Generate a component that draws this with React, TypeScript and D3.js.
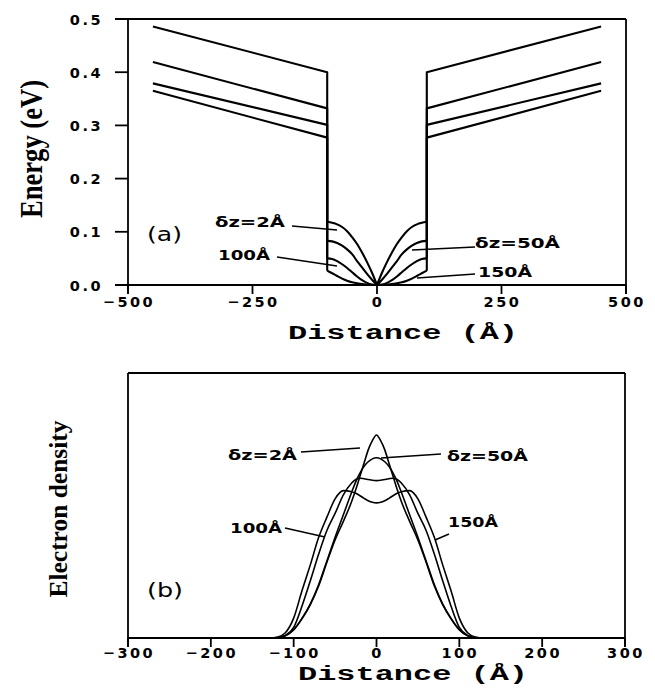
import React from 'react';
import * as d3 from 'd3';

// ---------- Panel (a): energy profiles ----------
const energyTicks = [0, 0.1, 0.2, 0.3, 0.4, 0.5];
const energyTickLabels = ['0.0', '0.1', '0.2', '0.3', '0.4', '0.5'];
const distTicksA = [-500, -250, 0, 250, 500];
const distTickLabelsA = ['\u2212500', '\u2212250', '0', '250', '500'];

const barrierFarZ = 450; // Å
const wellEdgeZ = 100; // Å
// one entry per δz = 2, 50, 100, 150 Å
const outerFar = [0.486, 0.419, 0.379, 0.365];
const outerNear = [0.4, 0.332, 0.301, 0.277];
const wellZ = [0, 10, 20, 30, 40, 50, 60, 70, 80, 90, 100];
const well2 = [0, 0.023, 0.043, 0.061, 0.077, 0.09, 0.101, 0.109, 0.114, 0.117, 0.119];
const well50 = [0, 0.01, 0.021, 0.033, 0.045, 0.058, 0.067, 0.074, 0.079, 0.082, 0.083];
const well100 = [0, 0.001, 0.004, 0.009, 0.016, 0.024, 0.032, 0.039, 0.045, 0.049, 0.05];
const well150 = [0, 0, 0.001, 0.002, 0.003, 0.005, 0.008, 0.012, 0.017, 0.022, 0.027];
const wells = [well2, well50, well100, well150];

// ---------- Panel (b): electron density ----------
const distTicksB = [-300, -200, -100, 0, 100, 200, 300];
const distTickLabelsB = ['\u2212300', '\u2212200', '\u2212100', '0', '100', '200', '300'];
const densZ = [0, 5, 10, 15, 20, 25, 30, 40, 50, 60, 70, 80, 90, 100, 110, 120, 130];
const dens2 = [0.766, 0.745, 0.71, 0.66, 0.61, 0.56, 0.515, 0.44, 0.37, 0.285, 0.195, 0.125, 0.072, 0.03, 0.008, 0.001, 0];
const dens50 = [0.68, 0.676, 0.665, 0.648, 0.622, 0.59, 0.55, 0.465, 0.38, 0.29, 0.2, 0.128, 0.074, 0.032, 0.009, 0.001, 0];
const dens100 = [0.594, 0.595, 0.598, 0.601, 0.603, 0.598, 0.585, 0.54, 0.47, 0.405, 0.315, 0.215, 0.12, 0.04, 0.01, 0.002, 0];
const dens150 = [0.51, 0.512, 0.518, 0.527, 0.537, 0.546, 0.552, 0.556, 0.525, 0.455, 0.378, 0.275, 0.178, 0.075, 0.02, 0.003, 0];
const densities = [dens2, dens50, dens100, dens150];

const tickFont = "'DejaVu Sans', sans-serif";
const serif = "'Liberation Serif', 'DejaVu Serif', serif";
const mono = "'Liberation Mono', 'DejaVu Sans Mono', monospace";

export default function App() {
  // scales panel (a)
  const xA = d3.scaleLinear().domain([-500, 500]).range([128, 626]);
  const yA = d3.scaleLinear().domain([0, 0.5]).range([285, 19]);
  // scales panel (b)
  const xB = d3.scaleLinear().domain([-300, 300]).range([128, 625]);
  const yB = d3.scaleLinear().domain([0, 1]).range([638, 373]);

  const lineA = d3
    .line<[number, number]>()
    .x((d) => xA(d[0]))
    .y((d) => yA(d[1]));
  const curveA = d3
    .line<[number, number]>()
    .x((d) => xA(d[0]))
    .y((d) => yA(d[1]))
    .curve(d3.curveMonotoneX);
  const curveB = d3
    .line<[number, number]>()
    .x((d) => xB(d[0]))
    .y((d) => yB(d[1]))
    .curve(d3.curveMonotoneX);

  const pathsA: string[] = [];
  outerFar.forEach((far, i) => {
    const near = outerNear[i];
    const w = wells[i];
    const edge = w[w.length - 1];
    pathsA.push(
      lineA([
        [-barrierFarZ, far],
        [-wellEdgeZ, near],
        [-wellEdgeZ, edge],
      ]) as string
    );
    pathsA.push(
      lineA([
        [barrierFarZ, far],
        [wellEdgeZ, near],
        [wellEdgeZ, edge],
      ]) as string
    );
    const left = wellZ.map((z, k) => [-z, w[k]] as [number, number]).reverse();
    const right = wellZ.map((z, k) => [z, w[k]] as [number, number]);
    pathsA.push(curveA(left) as string);
    pathsA.push(curveA(right) as string);
  });

  const pathsB = densities.map((d) => {
    const pts: [number, number][] = [];
    for (let k = densZ.length - 1; k > 0; k--) pts.push([-densZ[k], d[k]]);
    for (let k = 0; k < densZ.length; k++) pts.push([densZ[k], d[k]]);
    return curveB(pts) as string;
  });

  const tickText = {
    fontFamily: tickFont,
    fontWeight: 'bold' as const,
    fontSize: 14.5,
    letterSpacing: 2.5,
  };
  const annText = {
    fontFamily: tickFont,
    fontWeight: 'bold' as const,
    fontSize: 14,
  };

  return (
    <svg
      width={655}
      height={696}
      viewBox="0 0 655 696"
      style={{ position: 'absolute', left: 0, top: 0, background: '#fff' }}
    >
      <rect x={0} y={0} width={655} height={696} fill="#fff" />
      {/* ================= Panel (a) ================= */}
      <g stroke="#000" strokeWidth={1.8} fill="none">
        <line x1={115} x2={626} y1={yA(0.5)} y2={yA(0.5)} />
        <line x1={115} x2={626} y1={yA(0)} y2={yA(0)} />
        <line x1={xA(-500)} x2={xA(-500)} y1={yA(0.5)} y2={yA(0) + 9} />
        <line x1={xA(500)} x2={xA(500)} y1={yA(0.5)} y2={yA(0) + 9} />
        {energyTicks.map((t) => (
          <line key={'ya' + t} x1={115} x2={xA(-500)} y1={yA(t)} y2={yA(t)} />
        ))}
        {distTicksA.map((t) => (
          <line key={'xa' + t} x1={xA(t)} x2={xA(t)} y1={yA(0)} y2={yA(0) + 9} />
        ))}
      </g>
      {energyTicks.map((t, i) => (
        <text key={'yl' + t} x={103} y={yA(t) + 5.5} textAnchor="end" {...tickText}>
          {energyTickLabels[i]}
        </text>
      ))}
      {distTicksA.map((t, i) => (
        <text key={'xl' + t} x={xA(t) + 1} y={307} textAnchor="middle" {...tickText}>
          {distTickLabelsA[i]}
        </text>
      ))}
      <g stroke="#000" strokeWidth={2.1} fill="none" strokeLinejoin="round">
        {pathsA.map((d, i) => (
          <path key={'pa' + i} d={d} />
        ))}
      </g>
      {/* annotations (a) */}
      <g stroke="#000" strokeWidth={1.5}>
        <line x1={292} y1={226} x2={337} y2={230} />
        <line x1={277} y1={257} x2={337} y2={266} />
        <line x1={475} y1={247} x2={412} y2={250} />
        <line x1={475} y1={274} x2={417} y2={278} />
      </g>
      <text x={215} y={227} textLength={70} lengthAdjust="spacingAndGlyphs" {...annText}>
        {'\u03B4z=2\u00C5'}
      </text>
      <text x={218} y={260} textLength={52} lengthAdjust="spacingAndGlyphs" {...annText}>
        {'100\u00C5'}
      </text>
      <text x={475} y={248} textLength={85} lengthAdjust="spacingAndGlyphs" {...annText}>
        {'\u03B4z=50\u00C5'}
      </text>
      <text x={478} y={277} textLength={54} lengthAdjust="spacingAndGlyphs" {...annText}>
        {'150\u00C5'}
      </text>
      <text x={147} y={241} fontFamily={tickFont} fontSize={20} textLength={35} lengthAdjust="spacingAndGlyphs">
        (a)
      </text>
      {/* axis titles (a) */}
      <text
        transform="translate(42,149) rotate(-90)"
        textAnchor="middle"
        fontFamily={serif}
        fontWeight="bold"
        fontSize={31}
        textLength={138}
        lengthAdjust="spacingAndGlyphs"
      >
        Energy (eV)
      </text>
      <text
        x={288}
        y={339}
        fontFamily={mono}
        fontWeight="bold"
        fontSize={20}
        textLength={230}
        lengthAdjust="spacingAndGlyphs"
      >
        {'Distance (\u00C5)'}
      </text>

      {/* ================= Panel (b) ================= */}
      <g stroke="#000" strokeWidth={1.8} fill="none">
        <line x1={xB(-300)} x2={xB(300)} y1={yB(1)} y2={yB(1)} />
        <line x1={xB(-300)} x2={xB(300)} y1={yB(0)} y2={yB(0)} />
        <line x1={xB(-300)} x2={xB(-300)} y1={yB(1)} y2={yB(0) + 9} />
        <line x1={xB(300)} x2={xB(300)} y1={yB(1)} y2={yB(0) + 9} />
        {distTicksB.map((t) => (
          <line key={'xb' + t} x1={xB(t)} x2={xB(t)} y1={yB(0)} y2={yB(0) + 9} />
        ))}
      </g>
      {distTicksB.map((t, i) => (
        <text key={'xbl' + t} x={xB(t) + 1} y={658} textAnchor="middle" {...tickText}>
          {distTickLabelsB[i]}
        </text>
      ))}
      <g stroke="#000" strokeWidth={1.6} fill="none" strokeLinejoin="round">
        {pathsB.map((d, i) => (
          <path key={'pb' + i} d={d} />
        ))}
      </g>
      {/* annotations (b) */}
      <g stroke="#000" strokeWidth={1.5}>
        <line x1={301} y1={452} x2={360} y2={448} />
        <line x1={441} y1={454} x2={381} y2={458} />
        <line x1={285} y1={528} x2={325} y2={537} />
        <line x1={449} y1={534} x2={435} y2={540} />
      </g>
      <text x={228} y={460} textLength={69} lengthAdjust="spacingAndGlyphs" {...annText}>
        {'\u03B4z=2\u00C5'}
      </text>
      <text x={447} y={461} textLength={81} lengthAdjust="spacingAndGlyphs" {...annText}>
        {'\u03B4z=50\u00C5'}
      </text>
      <text x={230} y={533} textLength={52} lengthAdjust="spacingAndGlyphs" {...annText}>
        {'100\u00C5'}
      </text>
      <text x={448} y={527} textLength={50} lengthAdjust="spacingAndGlyphs" {...annText}>
        {'150\u00C5'}
      </text>
      <text x={147} y={597} fontFamily={tickFont} fontSize={20} textLength={36} lengthAdjust="spacingAndGlyphs">
        (b)
      </text>
      {/* axis titles (b) */}
      <text
        transform="translate(67,509) rotate(-90)"
        textAnchor="middle"
        fontFamily={serif}
        fontWeight="bold"
        fontSize={25}
        textLength={177}
        lengthAdjust="spacingAndGlyphs"
      >
        Electron density
      </text>
      <text
        x={298}
        y={680}
        fontFamily={mono}
        fontWeight="bold"
        fontSize={20}
        textLength={230}
        lengthAdjust="spacingAndGlyphs"
      >
        {'Distance (\u00C5)'}
      </text>
    </svg>
  );
}
